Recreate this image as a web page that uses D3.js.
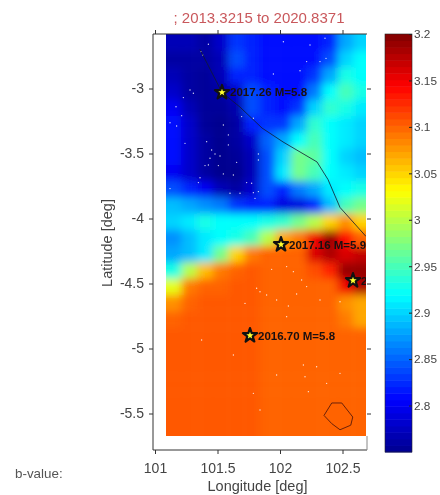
<!DOCTYPE html>
<html><head><meta charset="utf-8">
<style>html,body{margin:0;padding:0;background:#fff}svg{display:block;filter:blur(.35px)}
text{font-family:"Liberation Sans",Arial,sans-serif}</style>
<script src="https://cdn.jsdelivr.net/npm/d3@7/dist/d3.min.js"></script>
</head><body><svg id="c" width="440" height="495"></svg>
<script>
const titleText="; 2013.3215 to 2020.8371";
const xTicks=[101,101.5,102,102.5];
const yTicks=[-3,-3.5,-4,-4.5,-5,-5.5];
const cbTicks=[2.8,2.85,2.9,2.95,3,3.05,3.1,3.15,3.2];
const gridLons=[101.15,101.275,101.4,101.525,101.65,101.775,101.9,102.025,102.15,102.275,102.4,102.525,102.65];
const gridLats=[-2.65,-2.775,-2.9,-3.025,-3.15,-3.275,-3.4,-3.525,-3.65,-3.775,-3.9,-4.025,-4.15,-4.275,-4.4,-4.525,-4.65,-4.775,-4.9,-5.025,-5.15,-5.275,-5.4,-5.525,-5.65];
const bValues=[
[2.77,2.77,2.76,2.78,2.83,2.82,2.81,2.81,2.81,2.81,2.82,2.88,2.90],
[2.76,2.76,2.76,2.77,2.84,2.82,2.81,2.81,2.81,2.81,2.84,2.90,2.92],
[2.77,2.76,2.755,2.77,2.82,2.82,2.81,2.81,2.81,2.83,2.88,2.93,2.92],
[2.78,2.76,2.755,2.76,2.78,2.84,2.82,2.81,2.81,2.86,2.92,2.95,2.93],
[2.80,2.77,2.755,2.755,2.765,2.84,2.82,2.81,2.83,2.90,2.94,2.93,2.91],
[2.81,2.78,2.755,2.75,2.76,2.82,2.83,2.83,2.88,2.94,2.92,2.91,2.90],
[2.81,2.78,2.76,2.75,2.76,2.78,2.85,2.88,2.92,2.95,2.92,2.91,2.90],
[2.81,2.78,2.76,2.75,2.755,2.77,2.84,2.90,2.97,2.96,2.92,2.90,2.89],
[2.80,2.78,2.76,2.75,2.75,2.77,2.84,2.91,2.97,2.95,2.92,2.91,2.90],
[2.84,2.82,2.80,2.77,2.76,2.78,2.84,2.82,2.86,2.88,2.91,2.92,2.93],
[2.89,2.88,2.87,2.86,2.83,2.82,2.82,2.79,2.79,2.82,2.89,2.95,2.97],
[2.90,2.91,2.93,2.92,2.92,2.92,2.93,2.94,2.97,3.00,3.05,3.08,3.05],
[2.87,2.89,2.91,2.92,2.93,2.95,3.00,3.07,3.09,3.15,3.19,3.14,3.10],
[2.88,2.89,2.91,2.97,3.05,3.09,3.10,3.10,3.10,3.16,3.18,3.16,3.17],
[2.93,3.00,3.06,3.09,3.10,3.105,3.10,3.10,3.10,3.11,3.13,3.19,3.19],
[3.02,3.09,3.10,3.10,3.105,3.105,3.10,3.10,3.10,3.10,3.10,3.15,3.18],
[3.08,3.10,3.105,3.105,3.105,3.105,3.10,3.10,3.10,3.10,3.10,3.08,3.07],
[3.10,3.105,3.105,3.105,3.105,3.105,3.10,3.10,3.10,3.10,3.10,3.09,3.07],
[3.105,3.105,3.105,3.105,3.105,3.105,3.10,3.10,3.10,3.10,3.10,3.10,3.10],
[3.105,3.105,3.105,3.105,3.105,3.105,3.10,3.10,3.10,3.10,3.10,3.10,3.10],
[3.105,3.105,3.105,3.105,3.105,3.105,3.10,3.10,3.10,3.10,3.10,3.10,3.10],
[3.105,3.105,3.105,3.105,3.105,3.105,3.10,3.10,3.10,3.10,3.10,3.10,3.10],
[3.105,3.105,3.105,3.105,3.105,3.105,3.10,3.10,3.10,3.10,3.10,3.10,3.10],
[3.105,3.105,3.105,3.105,3.105,3.105,3.10,3.10,3.10,3.10,3.10,3.10,3.10],
[3.105,3.105,3.105,3.105,3.105,3.105,3.10,3.10,3.10,3.10,3.10,3.10,3.10]];
const dotLon=[101.427,101.368,101.381,101.947,102.16,102.24,102.36,102.027,102.213,102.368,102.32,101.28,101.227,101.307,101.168,101.213,101.12,101.173,101.24,101.413,101.587,101.547,101.693,101.787,101.453,101.48,101.52,101.587,101.44,101.427,101.4,101.507,101.653,101.827,101.827,101.547,101.627,101.36,101.347,101.12,101.733,101.773,101.68,101.787,101.827,101.8,101.6,101.933,102.053,102.107,102.173,101.813,101.893,101.973,102.067,101.72,102.213,102.32,102.133,101.84,101.627,101.373,102.187,101.973,102.2,102.293,102.48,101.787,101.84,102.227,102.373,102.053,102.48];
const dotLat=[-2.66,-2.716,-2.742,-2.888,-2.863,-2.665,-2.614,-2.64,-2.793,-2.768,-2.793,-3.011,-3.07,-3.037,-3.14,-3.209,-3.263,-3.288,-3.422,-3.409,-3.357,-3.281,-3.216,-3.229,-3.473,-3.504,-3.519,-3.434,-3.537,-3.588,-3.593,-3.593,-3.568,-3.504,-3.55,-3.657,-3.665,-3.686,-3.724,-3.77,-3.724,-3.729,-3.806,-3.801,-3.793,-3.845,-3.806,-4.391,-4.37,-4.409,-4.473,-4.537,-4.588,-4.627,-4.673,-4.653,-4.524,-4.627,-4.581,-4.563,-5.05,-4.935,-5.127,-5.204,-5.217,-5.14,-5.191,-5.345,-5.473,-5.332,-5.268,-4.755,-4.64];
const faultLon=[101.36,101.536,101.68,101.856,102.024,102.296,102.384,102.48,102.688];
const faultLat=[-2.70,-3.03,-3.143,-3.304,-3.411,-3.565,-3.70,-3.915,-4.138];
const polyLon=[102.414,102.494,102.582,102.566,102.48,102.414,102.352];
const polyLat=[-5.419,-5.419,-5.527,-5.59,-5.625,-5.578,-5.515];
const quakeLon=[101.536,102.008,102.584,101.76];
const quakeLat=[-3.03,-4.2,-4.477,-4.9];
const quakeLabel=["2017.26 M=5.8","2017.16 M=5.9","2","2016.70 M=5.8"];

const jetStops=[2.75,2.806,2.919,3.031,3.144,3.2];
const jetColors=["#00008f","#0000ff","#00ffff","#ffff00","#ff0000","#800000"];
const color=d3.scaleLinear().domain(jetStops).range(jetColors).clamp(true);

const svg=d3.select("#c");
const x=d3.scaleLinear().domain([101,102.5]).range([155,342.5]);
const y=d3.scaleLinear().domain([-3,-5.5]).range([88.5,413.5]);
const L=153,R=367,T=34,B=450;
const mapL=166,mapR=366,mapT=34,mapB=436;
const defs=svg.append("defs");
defs.append("clipPath").attr("id","mapClip").append("rect").attr("x",mapL).attr("y",mapT).attr("width",mapR-mapL).attr("height",mapB-mapT);
defs.append("filter").attr("id","soft").attr("filterUnits","userSpaceOnUse").attr("x",100).attr("y",-40).attr("width",340).attr("height",560)
  .append("feGaussianBlur").attr("stdDeviation",4);

const dLon=0.0625,dLat=0.0625,pad=40;
const cells=[];
bValues.forEach((row,i)=>row.forEach((v,j)=>{
  let x0=x(gridLons[j]-dLon),x1=x(gridLons[j]+dLon),y0=y(gridLats[i]+dLat),y1=y(gridLats[i]-dLat);
  if(j===0)x0-=pad; if(j===row.length-1)x1+=pad; if(i===0)y0-=pad; if(i===bValues.length-1)y1+=pad;
  cells.push({x0,x1,y0,y1,v});
}));
const map=svg.append("g").attr("clip-path","url(#mapClip)");
map.append("g").attr("filter","url(#soft)").selectAll("rect").data(cells).join("rect")
  .attr("x",d=>d.x0).attr("y",d=>d.y0).attr("width",d=>d.x1-d.x0+.5).attr("height",d=>d.y1-d.y0+.5)
  .attr("fill",d=>color(d.v));

map.append("g").selectAll("circle").data(dotLon.map((v,i)=>[v,dotLat[i]])).join("circle")
  .attr("cx",d=>x(d[0])).attr("cy",d=>y(d[1])).attr("r",.7).attr("fill","#fff").attr("opacity",.85);

const line=d3.line().x(d=>x(d[0])).y(d=>y(d[1]));
map.append("path").attr("d",line(faultLon.map((v,i)=>[v,faultLat[i]]))).attr("fill","none").attr("stroke","#101a30").attr("stroke-width",.8);
map.append("path").attr("d",line(polyLon.map((v,i)=>[v,polyLat[i]]))+"Z").attr("fill","none").attr("stroke","#5a1a0a").attr("stroke-width",.9);

const labelG=svg.append("g").attr("clip-path","url(#mapClip)");
const star=d3.symbol().type(d3.symbolStar).size(62);
const quakes=quakeLon.map((v,i)=>({lon:v,lat:quakeLat[i],t:quakeLabel[i]}));
labelG.selectAll("text").data(quakes).join("text")
  .attr("x",d=>x(d.lon)+8).attr("y",d=>y(d.lat)+4)
  .attr("font-size",11.5).attr("font-weight","bold").attr("fill","#1a1010").text(d=>d.t);
svg.append("g").selectAll("path").data(quakes).join("path")
  .attr("d",star).attr("transform",d=>`translate(${x(d.lon)},${y(d.lat)})`)
  .attr("fill","#ffff30").attr("stroke","#111").attr("stroke-width",2.2).attr("stroke-linejoin","round");

function style(g){g.selectAll("path.domain").attr("stroke","#333").attr("stroke-width",1);
  g.selectAll(".tick line").attr("stroke","#333");
  g.selectAll("text").attr("fill","#444").attr("font-size",14).attr("font-family","Liberation Sans");}
const xb=svg.append("g").attr("transform",`translate(0,${B})`).call(d3.axisBottom(x).tickValues(xTicks).tickFormat(d3.format("")).tickSize(4).tickSizeOuter(0).tickPadding(9));
style(xb);
xb.select("path.domain").attr("d",`M${L},0H${R}`);
const xt=svg.append("g").attr("transform",`translate(0,${T})`).call(d3.axisTop(x).tickValues(xTicks).tickFormat("").tickSize(4).tickSizeOuter(0));
style(xt);xt.select("path.domain").attr("d",`M${L},0H${R}`);
const yl=svg.append("g").attr("transform",`translate(${L},0)`).call(d3.axisLeft(y).tickValues(yTicks).tickFormat(d=>String(d)).tickSize(4).tickSizeOuter(0).tickPadding(5));
style(yl);yl.select("path.domain").attr("d",`M0,${T}V${B}`);
const yr=svg.append("g").attr("transform",`translate(${R},0)`).call(d3.axisRight(y).tickValues(yTicks).tickFormat("").tickSize(4).tickSizeOuter(0));
style(yr);yr.select("path.domain").attr("d",`M0,${mapB}V${B}`).attr("stroke","#888");

svg.append("text").attr("x",259).attr("y",23).attr("text-anchor","middle").attr("font-size",15).attr("fill","#c9585c").text(titleText);
svg.append("text").attr("x",257.5).attr("y",491).attr("text-anchor","middle").attr("font-size",14.5).attr("fill","#444").text("Longitude [deg]");
svg.append("text").attr("transform","translate(112,243) rotate(-90)").attr("text-anchor","middle").attr("font-size",14.5).attr("fill","#444").text("Latitude [deg]");
svg.append("text").attr("x",15).attr("y",478).attr("font-size",13.4).attr("fill","#555").text("b-value:");

const cb=d3.scaleLinear().domain([2.75,3.2]).range([452,34]);
const levels=d3.range(64).map(i=>2.75+(i+.5)*0.45/64);
svg.append("g").selectAll("rect").data(levels).join("rect")
  .attr("x",385).attr("width",27)
  .attr("y",d=>cb(d+0.45/128)).attr("height",d=>cb(d-0.45/128)-cb(d+0.45/128)+.5)
  .attr("fill",d=>color(d));
svg.append("rect").attr("x",385).attr("y",34).attr("width",27).attr("height",418).attr("fill","none").attr("stroke","#222").attr("stroke-width",.6);
const cbA=svg.append("g").attr("transform","translate(412,0)").call(d3.axisRight(cb).tickValues(cbTicks).tickFormat(d3.format("")).tickSize(-3).tickSizeOuter(0).tickPadding(2));
cbA.select("path.domain").remove();
cbA.selectAll(".tick line").attr("stroke","#222");
cbA.selectAll("text").attr("fill","#444").attr("font-size",11.8).attr("font-family","Liberation Sans").attr("x",2);
</script></body></html>
